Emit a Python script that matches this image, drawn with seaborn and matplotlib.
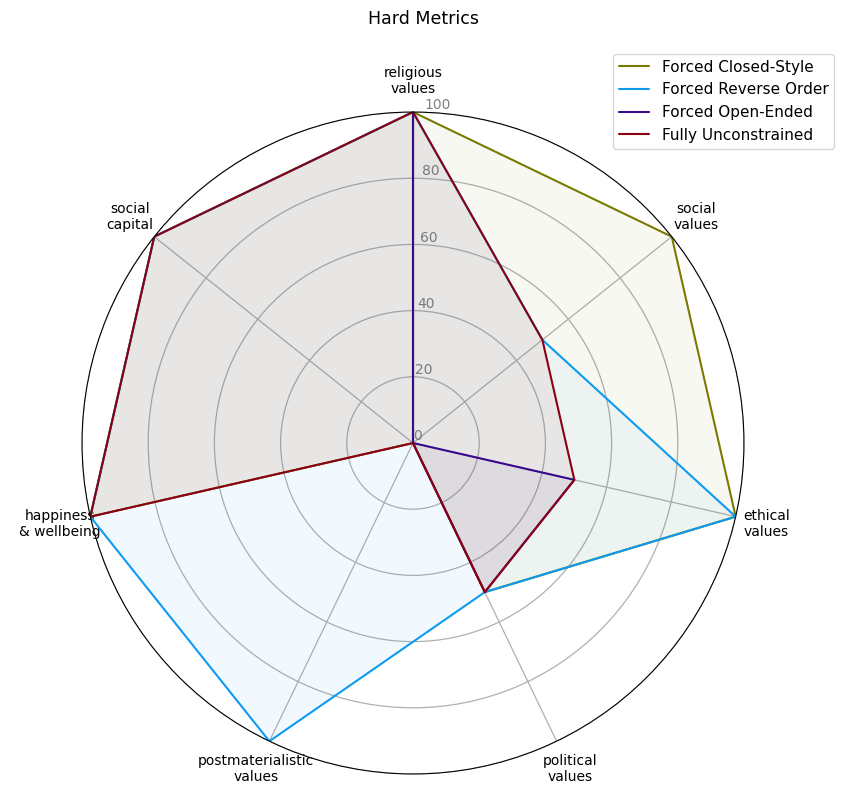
import numpy as np
import pandas as pd
import matplotlib
matplotlib.use('Agg')
import matplotlib.pyplot as plt
import seaborn as sns

categories = ['religious\nvalues', 'social\nvalues', 'ethical\nvalues', 'political\nvalues',
              'postmaterialistic\nvalues', 'happiness\n& wellbeing', 'social\ncapital']
series_names = ['Forced Closed-Style', 'Forced Reverse Order', 'Forced Open-Ended', 'Fully Unconstrained']
closed_style = [100, 100, 100, 50, 0, 100, 100]
reverse_order = [100, 50, 100, 50, 100, 100, 100]
open_ended = [100, 0, 50, 50, 0, 0, 0]
unconstrained = [100, 50, 50, 50, 0, 100, 100]
colors = ['#7a7a00', '#0d9bf0', '#3b0a8c', '#8b0015']
rticks = [0, 20, 40, 60, 80, 100]

sns.set_style('white')
plt.rcParams['font.family'] = ['DejaVu Sans']
plt.rcParams['text.color'] = 'black'
plt.rcParams['xtick.color'] = 'black'

n = len(categories)
angles = np.linspace(0, 2 * np.pi, n, endpoint=False)

rows = []
for name, vals in zip(series_names, [closed_style, reverse_order, open_ended, unconstrained]):
    for i in range(n + 1):
        rows.append({'angle': angles[i % n], 'value': vals[i % n], 'series': name, 'order': i})
df = pd.DataFrame(rows)

fig = plt.figure(figsize=(8.47, 8.02), dpi=100)
ax = fig.add_axes([0.0968, 0.0349, 0.7816, 0.8254], projection='polar')
ax.set_theta_offset(np.pi / 2)
ax.set_theta_direction(-1)

sns.lineplot(data=df, x='angle', y='value', hue='series', palette=colors,
             sort=False, estimator=None, units='series', linewidth=1.5, ax=ax)

for name, c in zip(series_names, colors):
    sub = df[df['series'] == name]
    ax.fill(sub['angle'], sub['value'], color=c, alpha=0.05)

ax.set_ylim(0, 100)
ax.set_yticks(rticks)
ax.set_yticklabels([str(t) for t in rticks], color='gray', fontsize=10)
ax.set_rlabel_position(2)
ax.set_xticks(angles)
ax.set_xticklabels(categories, fontsize=10, color='black')
ax.tick_params(axis='x', pad=12)
ax.grid(True, color='#b0b0b0', linewidth=0.9)
ax.spines['polar'].set_color('black')
ax.set_xlabel('')
ax.set_ylabel('')

ax.legend(loc='upper right', bbox_to_anchor=(842 / 847, 1 - 46 / 802),
          bbox_transform=fig.transFigure, fontsize=11, frameon=True)
fig.suptitle('Hard Metrics', y=0.988, fontsize=12.5, color='black')

fig.savefig('out.png', dpi=100)
